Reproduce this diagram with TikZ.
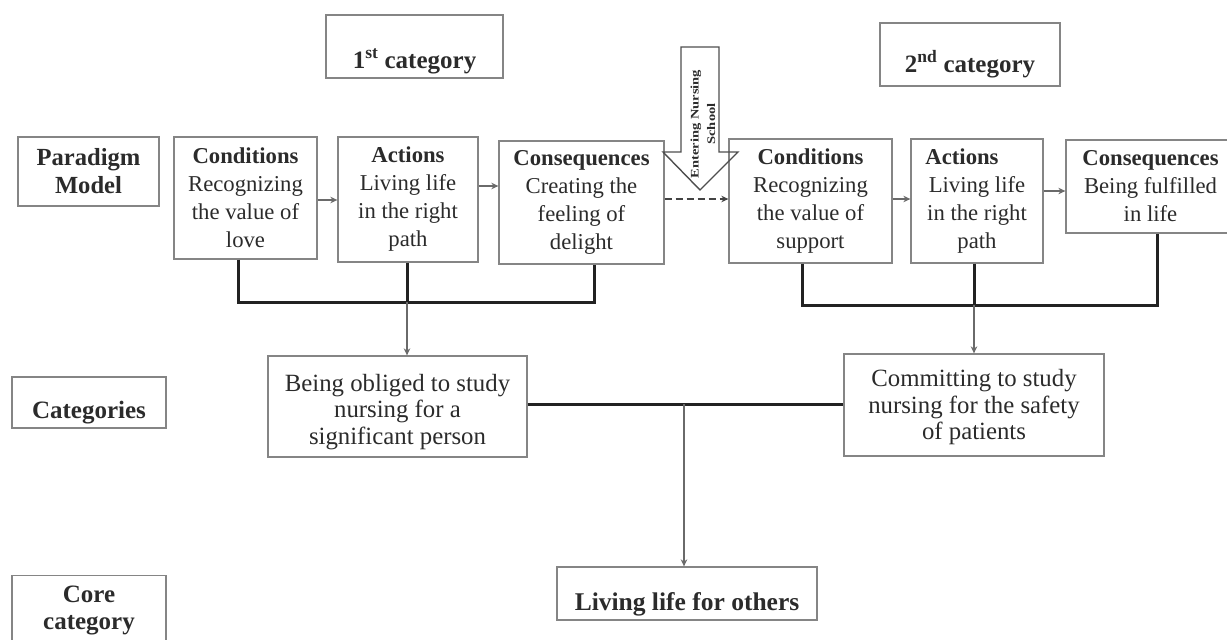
\documentclass[tikz,border=0pt]{standalone}
\usepackage{fontspec}
\setmainfont{Liberation Serif}
\usetikzlibrary{arrows.meta}
\definecolor{boxc}{HTML}{858585}
\definecolor{txtc}{HTML}{2B2B2B}
\definecolor{linec}{HTML}{222222}
\definecolor{arrc}{HTML}{6A6A6A}
\begin{document}
\begin{tikzpicture}[x=1pt,y=-1pt,
  box/.style={draw=boxc, line width=1.3pt, inner sep=0pt, align=center, text=txtc},
  topbox/.style={box, font=\fontsize{22.7}{28}\selectfont},
  catbox/.style={box, font=\fontsize{24.8}{26.5}\selectfont},
  lbl/.style={box, font=\fontsize{25}{27.5}\selectfont\bfseries},
  bracket/.style={draw=linec, line width=3pt},
  flow/.style={draw=arrc, line width=2.6pt, -{Stealth[length=7pt,width=6.5pt]}},
  dflow/.style={flow, draw=linec!85, dash pattern=on 7pt off 4pt},
]
\useasboundingbox (0,0) rectangle (1227,640);

% headers
\node[lbl, minimum width=177pt, minimum height=63pt, text height=53pt, text depth=10pt] (cat1) at (414.5,46.5) {1\textsuperscript{st} category};
\node[lbl, minimum width=180pt, minimum height=63pt, text height=49pt, text depth=14pt] (cat2) at (970,54.5) {2\textsuperscript{nd} category};

% left labels
\node[lbl, minimum width=141pt, minimum height=69pt, font=\fontsize{24.6}{28}\selectfont\bfseries] (para) at (88.5,171.5) {Paradigm\\Model};
\node[lbl, minimum width=154pt, minimum height=51pt, text height=41pt, text depth=10pt] (cats) at (89,402.5) {Categories};
\node[lbl, anchor=north, minimum width=154pt, minimum height=70pt] (corel) at (89,575) {Core\\category};

% paradigm boxes, first category
\node[topbox, minimum width=143pt, minimum height=122pt] (cond1) at (245.5,198) {\textbf{Conditions}\\Recognizing\\the value of\\love};
\node[topbox, minimum width=140pt, minimum height=125pt] (act1) at (408,199.5) {\textbf{Actions}\\Living life\\in the right\\path};
\node[topbox, minimum width=165pt, minimum height=123pt] (cons1) at (581.5,202.5) {\textbf{Consequences}\\Creating the\\feeling of\\delight};

% second category
\node[topbox, minimum width=163pt, minimum height=124pt] (cond2) at (810.5,201) {\textbf{Conditions}\\Recognizing\\the value of\\support};
\node[topbox, minimum width=132pt, minimum height=124pt] (act2) at (977,201) {\textbf{Actions}\hspace*{30pt}\\Living life\\in the right\\path};
\node[topbox, minimum width=169pt, minimum height=93pt] (cons2) at (1150.5,186.5) {\textbf{Consequences}\\Being fulfilled\\in life};

% categories
\node[catbox, minimum width=259pt, minimum height=101pt] (catA) at (397.5,406.5) {\rule{0pt}{28pt}Being obliged to study\\nursing for a\\significant person};
\node[catbox, minimum width=260pt, minimum height=102pt] (catB) at (974,405) {\rule{0pt}{22pt}Committing to study\\nursing for the safety\\of patients};

% core category
\node[lbl, minimum width=260pt, minimum height=53pt, text height=43pt, text depth=10pt, font=\fontsize{25.5}{28}\selectfont\bfseries] (core) at (687,593.5) {Living life for others};

% entering nursing school arrow
\draw[draw=linec!80, line width=1.4pt] (681,47) -- (719,47) -- (719,152) -- (738,152) -- (700,190) -- (663,152) -- (681,152) -- cycle;
\node[rotate=90, align=center, inner sep=0pt, text=txtc, font=\fontsize{14.5}{16.5}\selectfont\bfseries] (ens) at (703,124) {\scalebox{1}[0.8]{Entering Nursing}\\\scalebox{1}[0.8]{School}};

% flow arrows
\draw[flow] (cond1.east |- 0,200) -- (act1.west |- 0,200);
\draw[flow] (act1.east |- 0,186) -- (cons1.west |- 0,186);
\draw[dflow] (cons1.east |- 0,199) -- (cond2.west |- 0,199);
\draw[flow] (cond2.east |- 0,199) -- (act2.west |- 0,199);
\draw[flow] (act2.east |- 0,191) -- (cons2.west |- 0,191);

% bracket 1
\coordinate (b1l) at (238,302);
\coordinate (b1m) at (407,302);
\coordinate (b1r) at (594,302);
\draw[bracket] (cond1.south -| b1l) -- (b1l) -- (b1r) -- (cons1.south -| b1r);
\draw[bracket] (act1.south -| b1m) -- (b1m);
\draw[flow] (b1m) -- (b1m |- catA.north);

% bracket 2
\coordinate (b2l) at (802,305);
\coordinate (b2m) at (974,305);
\coordinate (b2r) at (1157,305);
\draw[bracket] (cond2.south -| b2l) -- (b2l) -- (b2r) -- (cons2.south -| b2r);
\draw[bracket] (act2.south -| b2m) -- (b2m);
\draw[flow] (b2m) -- (b2m |- catB.north);

% categories to core
\coordinate (j) at (684,404);
\draw[bracket] (catA.east |- j) -- (catB.west |- j);
\draw[flow] (j) -- (j |- core.north);
\end{tikzpicture}
\end{document}
